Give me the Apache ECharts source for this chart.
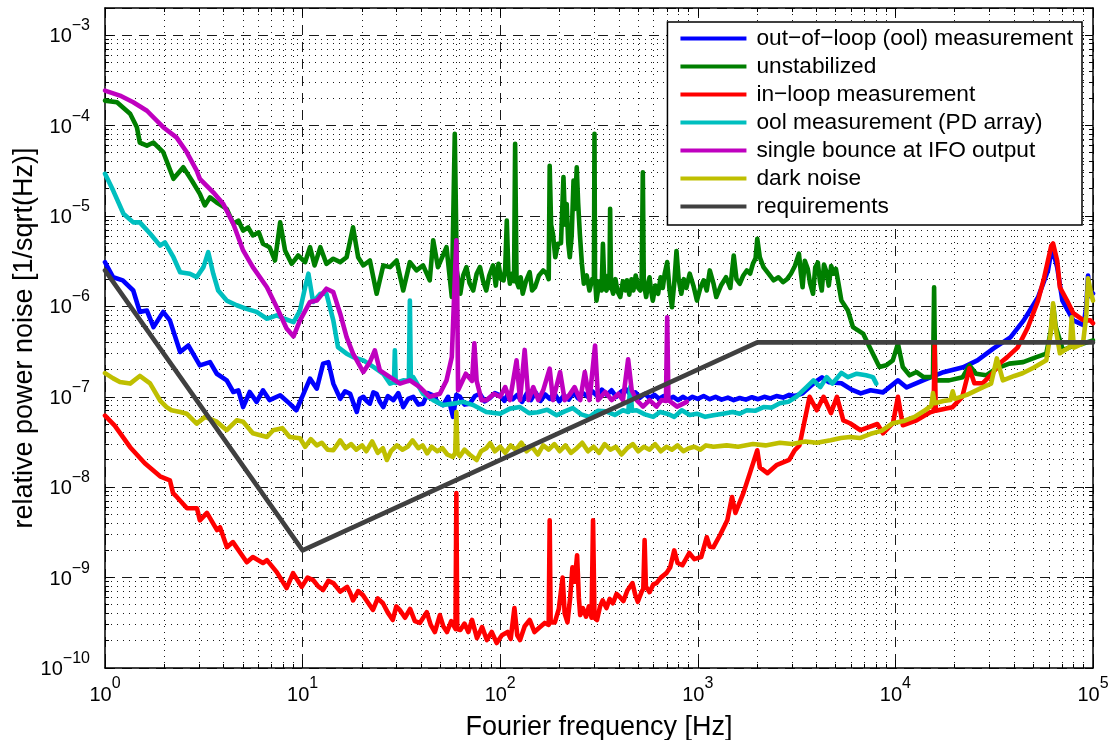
<!DOCTYPE html>
<html>
<head>
<meta charset="utf-8">
<title>Relative power noise</title>
<script src="https://cdn.jsdelivr.net/npm/echarts@6/dist/echarts.min.js"></script>
<style>
  html, body { margin: 0; padding: 0; background: #fff; }
  #chart { width: 1117px; height: 740px; }
</style>
</head>
<body>
<div id="chart"></div>
<script>
// Spectra as [frequency in Hz, relative power noise in 1/sqrt(Hz)]
const oolMeasurement = [
  [1,3.08e-6],[1.1,2.1e-6],[1.23,1.94e-6],[1.39,1.5e-6],[1.5,8.7e-7],[1.63,9.0e-7],[1.76,5.9e-7],[1.97,8.7e-7],
  [2.13,7.0e-7],[2.4,3.13e-7],[2.64,3.7e-7],[3.02,2.23e-7],[3.4,2.42e-7],[3.68,1.8e-7],[4.13,1.52e-7],[4.46,1.13e-7],
  [4.73,1.18e-7],[5.0,7.7e-8],[5.4,1.13e-7],[5.85,8.8e-8],[6.3,1.18e-7],[6.8,9.2e-8],[7.7,1.04e-7],[8.6,8.4e-8],
  [9.3,7.1e-8],[10.1,1.08e-7],[10.9,1.59e-7],[11.8,1.23e-7],[12.7,2.33e-7],[13.5,2.42e-7],[14.3,1.4e-7],[15.5,9.5e-8],
  [16.4,1.15e-7],[17.4,1.08e-7],[18.1,8.5e-8],[18.8,6.8e-8],[19.5,9.5e-8],[20.3,1.0e-7],[21.1,9.0e-8],[21.9,8.4e-8],
  [22.8,1.12e-7],[23.7,1.08e-7],[24.6,8.8e-8],[25.6,7.7e-8],[27,1.02e-7],[28.8,9.2e-8],[30.5,1.1e-7],[32.3,7.7e-8],
  [34.2,9.5e-8],[36.3,1.0e-7],[38.5,8.2e-8],[40.7,8.4e-8],[43,1.1e-7],[45.8,1.04e-7],[48.5,8.6e-8],[51.4,8.1e-8],
  [54.5,1.0e-7],[57.7,6.0e-8],[60,1.05e-7],[62.6,1.0e-7],[66,8.2e-8],[70.2,8.4e-8],[74.5,1.02e-7],[78.8,1.08e-7],
  [83.5,8.9e-8],[88.5,9.7e-8],[94,1.1e-7],[100,1.04e-7],[105,9.0e-8],[110,1.1e-7],[116,9.4e-8],[122,1.05e-7],
  [129,8.8e-8],[136,1.08e-7],[143,9.2e-8],[151,1.12e-7],[160,9.0e-8],[169,1.06e-7],[178,9.5e-8],[188,1.1e-7],
  [199,8.9e-8],[210,1.04e-7],[222,9.3e-8],[235,1.12e-7],[248,9.6e-8],[262,1.1e-7],[277,1.0e-7],[293,1.15e-7],
  [310,1.02e-7],[327,1.2e-7],[346,1.05e-7],[366,1.18e-7],[387,1.0e-7],[409,1.14e-7],[432,1.22e-7],[457,1.05e-7],
  [483,1.12e-7],[510,9.8e-8],[540,1.08e-7],[570,9.7e-8],[603,1.05e-7],[637,9.5e-8],[673,1.02e-7],[712,9.4e-8],
  [752,1.0e-7],[795,9.2e-8],[840,1.0e-7],[888,9.3e-8],[940,1.0e-7],[1000,9.5e-8],[1070,1.02e-7],[1150,9.4e-8],
  [1230,1.0e-7],[1320,9.3e-8],[1420,9.8e-8],[1520,9.2e-8],[1630,9.7e-8],[1750,9.3e-8],[1880,9.9e-8],[2020,9.4e-8],
  [2170,1.0e-7],[2330,9.6e-8],[2500,1.02e-7],[2700,9.8e-8],[2900,1.05e-7],[3100,1.02e-7],[3390,1.09e-7],[3700,1.3e-7],
  [4000,1.5e-7],[4250,1.64e-7],[4600,1.45e-7],[5330,1.41e-7],[6000,1.2e-7],[6680,1.09e-7],[7490,1.18e-7],[8650,1.12e-7],
  [10300,1.52e-7],[11400,1.27e-7],[13800,1.52e-7],[17500,1.87e-7],[22000,2.12e-7],[26000,2.53e-7],[31400,3.43e-7],
  [38200,4.55e-7],[44600,7.0e-7],[52700,1.26e-6],[59200,2.5e-6],[62000,4.5e-6],[65900,2.7e-6],[70000,1.16e-6],
  [79500,7.0e-7],[89600,6.2e-7],[92500,1.0e-6],[94400,2.2e-6],[96500,1.3e-6],[100000,1.39e-6]
];

const unstabilized = [
  [1,1.89e-4],[1.15,1.81e-4],[1.34,1.35e-4],[1.45,9.6e-5],[1.5,6.5e-5],[1.63,6.0e-5],[1.76,6.5e-5],[1.97,5.1e-5],
  [2.22,2.58e-5],[2.49,3.46e-5],[2.75,2.47e-5],[3.02,1.76e-5],[3.2,1.31e-5],[3.4,1.61e-5],[3.66,1.42e-5],[4.13,1.2e-5],
  [4.46,8.2e-6],[4.73,8.9e-6],[5.0,6.9e-6],[5.3,7.5e-6],[5.6,6.1e-6],[6.0,6.6e-6],[6.3,4.93e-6],[6.8,4.52e-6],
  [7.25,3.22e-6],[7.7,8.5e-6],[8.15,4.16e-6],[8.8,2.96e-6],[9.5,3.66e-6],[10.3,3.09e-6],[10.9,4.52e-6],[11.5,2.84e-6],
  [12.3,4.52e-6],[13.2,2.96e-6],[14.3,3.37e-6],[15.5,3.09e-6],[16.7,3.5e-6],[18.0,7.5e-6],[19.1,3.5e-6],[20.3,2.84e-6],
  [21.9,3.22e-6],[23.7,1.38e-6],[25.6,2.84e-6],[27.7,2.72e-6],[29.9,3.22e-6],[32.3,1.5e-6],[34.9,3.09e-6],[37.7,2.5e-6],
  [40.7,2.84e-6],[44,1.94e-6],[45.8,5.4e-6],[48.4,2.72e-6],[53.5,4.52e-6],[56.9,1.27e-6],[58.9,8.1e-5],[60.3,2.5e-6],
  [62.8,1.38e-6],[65,2.2e-6],[67.5,2.72e-6],[70,1.8e-6],[73,1.5e-6],[76,2.3e-6],[79,2.72e-6],[82,1.9e-6],[85,1.5e-6],
  [88,2.2e-6],[92,2.84e-6],[95,1.7e-6],[98,2.96e-6],[101,2.0e-6],[104,1.94e-6],[106,2.6e-6],[108,8.9e-6],[110,2.4e-6],
  [112,1.78e-6],[115,2.3e-6],[117.5,1.9e-6],[119,6.3e-5],[121,1.9e-6],[124,1.63e-6],[127,2.1e-6],[130,1.38e-6],
  [135,1.9e-6],[141,2.39e-6],[145,1.5e-6],[150,1.63e-6],[157,2.2e-6],[165,2.5e-6],[172,2.3e-6],[176,2.0e-6],
  [178,3.6e-5],[181,8.0e-6],[185,6.3e-6],[190,3.5e-6],[196,4.93e-6],[203,5.0e-6],[209,2.69e-5],[213,8.0e-6],
  [217,1.36e-5],[221,5.0e-6],[225,3.5e-6],[230,6.0e-6],[235,2.47e-5],[239,1.2e-5],[244,3.46e-5],[248,1.4e-5],
  [253,6.3e-6],[259,3.0e-6],[265,1.78e-6],[274,2.2e-6],[283,1.5e-6],[292,2.0e-6],[298,1.8e-6],[300,8.1e-5],
  [302,2.0e-6],[307,1.16e-6],[318,1.9e-6],[326,1.5e-6],[331,4.93e-6],[337,1.6e-6],[345,1.5e-6],[352,2.2e-6],
  [357,1.6e-6],[360,1.2e-5],[364,1.7e-6],[373,1.38e-6],[383,2.0e-6],[393,1.45e-6],[405,1.27e-6],[418,1.9e-6],
  [430,1.5e-6],[438,1.94e-6],[450,1.35e-6],[462,2.0e-6],[472,1.5e-6],[485,2.2e-6],[500,1.6e-6],[512,1.5e-6],
  [520,2.0e-6],[527,3.05e-5],[533,1.8e-6],[548,1.27e-6],[560,1.8e-6],[570,2.1e-6],[580,1.5e-6],[592,1.16e-6],
  [610,1.7e-6],[630,1.38e-6],[648,2.1e-6],[665,1.6e-6],[680,2.3e-6],[700,3.09e-6],[720,1.5e-6],[740,9.8e-7],
  [760,1.8e-6],[780,4.1e-6],[800,2.0e-6],[825,1.38e-6],[850,2.0e-6],[875,1.6e-6],[910,2.3e-6],[950,1.7e-6],
  [990,1.16e-6],[1030,1.6e-6],[1070,1.94e-6],[1110,1.5e-6],[1150,2.5e-6],[1200,1.8e-6],[1240,1.27e-6],[1310,1.7e-6],
  [1390,2.1e-6],[1460,1.6e-6],[1520,3.66e-6],[1570,2.0e-6],[1630,1.78e-6],[1700,2.2e-6],[1770,2.5e-6],[1840,2.3e-6],
  [1900,2.96e-6],[1960,3.4e-6],[2000,5.6e-6],[2060,3.5e-6],[2150,2.72e-6],[2280,2.3e-6],[2420,1.94e-6],[2560,2.1e-6],
  [2700,1.86e-6],[2830,2.0e-6],[2960,2.3e-6],[3100,2.8e-6],[3250,3.83e-6],[3320,2.4e-6],[3390,1.63e-6],[3480,3.2e-6],
  [3600,2.61e-6],[3700,1.8e-6],[3830,1.38e-6],[3930,2.7e-6],[4050,3.06e-6],[4150,1.9e-6],[4240,1.5e-6],[4350,2.9e-6],
  [4480,2.4e-6],[4600,1.7e-6],[4730,2.8e-6],[4870,2.3e-6],[5000,2.6e-6],[5150,1.8e-6],[5330,1.16e-6],[5750,9.0e-7],
  [6100,5.9e-7],[6860,5.0e-7],[7400,3.55e-7],[8300,2.14e-7],[8980,2.23e-7],[9700,2.53e-7],[10300,3.87e-7],[10900,2.14e-7],
  [11800,1.73e-7],[12800,1.88e-7],[13900,1.65e-7],[15000,1.65e-7],[15500,1.7e-7],[15700,1.63e-6],[15900,1.6e-7],
  [16300,1.52e-7],[18700,1.52e-7],[21900,1.65e-7],[23700,2.23e-7],[25600,1.8e-7],[28800,1.73e-7],[32300,2.05e-7],
  [37700,2.33e-7],[44300,2.42e-7],[51700,2.75e-7],[58000,3.0e-7],[61200,5.4e-7],[63000,1.0e-6],[64700,6.0e-7],
  [70500,3.26e-7],[76500,3.55e-7],[89000,3.87e-7],[100000,4.2e-7]
];

const inLoopMeasurement = [
  [1,6.2e-8],[1.12,4.8e-8],[1.34,2.77e-8],[1.59,1.84e-8],[1.9,1.32e-8],[2.13,1.19e-8],[2.21,8.6e-9],[2.31,7.8e-9],
  [2.6,5.85e-9],[2.92,5.85e-9],[3.02,4.3e-9],[3.28,5.2e-9],[3.69,3.35e-9],[3.82,3.6e-9],[4.14,2.17e-9],[4.44,2.47e-9],
  [5.22,1.48e-9],[5.6,1.69e-9],[6.3,1.45e-9],[6.6,1.56e-9],[7.4,1.15e-9],[8.3,7.65e-10],[8.95,1.12e-9],[9.9,7.9e-10],
  [10.6,1.0e-9],[11.3,9.4e-10],[12,8.0e-10],[12.7,7.3e-10],[13.5,9.2e-10],[14.3,8.7e-10],[15.5,7.0e-10],[16.8,7.9e-10],
  [17.4,6.8e-10],[18,5.6e-10],[19.1,7.1e-10],[20.2,6.4e-10],[21.4,5.3e-10],[22.7,4.4e-10],[24,5.9e-10],[25.5,5.2e-10],
  [27,4.1e-10],[28.6,3.4e-10],[29.8,4.8e-10],[31,4.4e-10],[33,3.6e-10],[35,4.5e-10],[37,3.3e-10],[39.2,3.15e-10],
  [42.5,4.15e-10],[44.5,3.0e-10],[46.7,2.5e-10],[49.5,3.85e-10],[51.5,2.9e-10],[53.8,2.5e-10],[56.5,3.3e-10],
  [59.4,2.7e-10],[60,8.6e-9],[60.6,2.7e-10],[62.8,2.63e-10],[66,3.1e-10],[69,2.5e-10],[72,3.4e-10],[76.3,2.14e-10],
  [81,2.84e-10],[85.6,2.04e-10],[90.6,2.5e-10],[96,1.89e-10],[102,2.3e-10],[109,2.5e-10],[113,2.1e-10],[118,4.6e-10],
  [122,2.3e-10],[126,2.04e-10],[133,2.9e-10],[141,3.4e-10],[149,2.5e-10],[158,2.8e-10],[168,3.15e-10],[176,3.0e-10],
  [178,4.3e-9],[180,3.2e-10],[189,3.2e-10],[198,4.5e-10],[207,1.0e-9],[212,4.0e-10],[219,3.2e-10],[226,6.0e-10],
  [232,1.3e-9],[238,9.0e-10],[245,1.77e-9],[250,6.0e-10],[254,3.85e-10],[262,4.6e-10],[272,3.7e-10],[281,4.8e-10],
  [290,3.6e-10],[295,4.3e-9],[300,3.6e-10],[309,3.4e-10],[320,4.8e-10],[330,5.6e-10],[345,4.6e-10],[358,5.8e-10],
  [372,5.2e-10],[388,6.6e-10],[403,6.1e-10],[420,5.5e-10],[440,7.2e-10],[467,8.7e-10],[482,6.5e-10],[497,5.4e-10],
  [520,7.0e-10],[530,7.5e-10],[538,2.6e-9],[546,8.0e-10],[570,6.9e-10],[595,8.4e-10],[618,8.7e-10],[650,1.0e-9],
  [693,1.12e-9],[725,1.3e-9],[760,2.0e-9],[790,1.45e-9],[835,1.37e-9],[870,1.6e-9],[905,1.87e-9],[960,1.6e-9],
  [1040,1.69e-9],[1110,2.8e-9],[1150,2.2e-9],[1200,2.17e-9],[1300,3.0e-9],[1410,4.3e-9],[1490,7.8e-9],[1550,5.2e-9],
  [1700,8.6e-9],[1840,1.46e-8],[2000,2.56e-8],[2060,1.66e-8],[2250,1.43e-8],[2500,1.75e-8],[2900,2.0e-8],[3090,2.56e-8],
  [3270,2.9e-8],[3680,1.0e-7],[4000,7.1e-8],[4330,1.0e-7],[4720,6.6e-8],[5060,1.0e-7],[5450,5.5e-8],[5890,5.1e-8],
  [6660,4.27e-8],[8100,5.0e-8],[8650,3.95e-8],[9720,5.1e-8],[10300,1.0e-7],[10900,4.85e-8],[12800,5.5e-8],[15000,6.75e-8],
  [15600,6.9e-8],[15800,3.7e-7],[16000,7.0e-8],[16300,7.1e-8],[19400,7.65e-8],[21800,1.0e-7],[23700,2.07e-7],
  [25100,1.41e-7],[27600,1.41e-7],[31000,1.82e-7],[34100,2.4e-7],[36700,2.73e-7],[41500,3.5e-7],[46800,5.85e-7],
  [52700,1.16e-6],[56600,2.09e-6],[61500,4.7e-6],[62800,4.97e-6],[65900,3.2e-6],[68000,1.62e-6],[73900,1.16e-6],
  [79500,8.4e-7],[89600,7.0e-7],[97000,7.0e-7],[100000,6.5e-7]
];

const oolPdArray = [
  [1,2.93e-5],[1.1,1.91e-5],[1.24,1.06e-5],[1.39,8.5e-6],[1.5,8.5e-6],[1.69,6.4e-6],[1.9,4.7e-6],[2.01,5.1e-6],
  [2.22,3.5e-6],[2.4,2.39e-6],[2.69,2.3e-6],[2.91,2.11e-6],[3.15,2.72e-6],[3.33,3.98e-6],[3.53,2.3e-6],[3.74,1.5e-6],
  [4.13,1.16e-6],[4.64,1.03e-6],[5.2,9.4e-7],[5.85,8.7e-7],[6.6,7.3e-7],[7.4,7.95e-7],[8.1,7.3e-7],[9.0,6.7e-7],
  [9.7,9.0e-7],[10.3,1.63e-6],[10.7,2.3e-6],[11.3,1.12e-6],[12.3,1.38e-6],[13.2,1.38e-6],[14.3,7.0e-7],[15.1,3.55e-7],
  [16.7,3.0e-7],[18,2.75e-7],[20.3,2.53e-7],[22.8,2.14e-7],[25.6,1.8e-7],[27.7,1.4e-7],[29.0,1.45e-7],[29.3,3.26e-7],
  [29.6,1.42e-7],[32.3,1.52e-7],[34.5,1.5e-7],[34.9,1.16e-6],[35.3,1.6e-7],[36.3,1.65e-7],[40.7,1.08e-7],[45.8,9.2e-8],
  [51.4,8.1e-8],[57.7,8.4e-8],[65,8.8e-8],[73,8.1e-8],[85,6.8e-8],[100,6.5e-8],[112,7.4e-8],[126,7.7e-8],[140,6.6e-8],
  [155,6.75e-8],[173,7.2e-8],[193,6.25e-8],[212,6.9e-8],[233,7.5e-8],[257,6.4e-8],[283,6.0e-8],[312,7.0e-8],[343,6.9e-8],
  [380,6.3e-8],[418,7.1e-8],[445,6.8e-8],[455,1.28e-7],[465,7.0e-8],[490,7.1e-8],[540,6.4e-8],[595,6.0e-8],[645,6.8e-8],
  [700,6.5e-8],[760,6.0e-8],[830,7.1e-8],[910,6.3e-8],[990,6.5e-8],[1090,6.0e-8],[1200,6.25e-8],[1340,6.5e-8],
  [1500,6.8e-8],[1630,6.5e-8],[1770,7.1e-8],[1950,7.0e-8],[2150,7.7e-8],[2370,7.6e-8],[2600,8.5e-8],[2870,8.8e-8],
  [3150,1.0e-7],[3550,1.28e-7],[3850,1.52e-7],[4170,1.28e-7],[4490,1.65e-7],[4800,1.4e-7],[5330,1.84e-7],[5750,1.65e-7],
  [6370,1.8e-7],[7100,1.73e-7],[7700,1.65e-7],[8000,1.4e-7]
];

const singleBounce = [
  [1,2.44e-4],[1.19,2.15e-4],[1.39,1.81e-4],[1.63,1.46e-4],[1.97,9.6e-5],[2.3,7.4e-5],[2.59,5.1e-5],[2.91,3.18e-5],
  [3.02,2.58e-5],[3.53,1.83e-5],[3.97,1.36e-5],[4.46,8.2e-6],[5.0,4.16e-6],[5.6,2.72e-6],[6.6,1.63e-6],[7.4,9.8e-7],
  [8.3,5.7e-7],[9.0,4.66e-7],[9.7,7.0e-7],[10.9,1.12e-6],[11.8,1.16e-6],[13.2,1.57e-6],[14.3,1.44e-6],[15.5,8.3e-7],
  [16.7,4.58e-7],[18,3.0e-7],[20.3,1.88e-7],[21.9,2.42e-7],[23.2,3.26e-7],[24.6,1.96e-7],[27.7,1.65e-7],[31.1,1.4e-7],
  [34.9,1.52e-7],[39.2,1.28e-7],[44,1.0e-7],[49.5,1.08e-7],[53.5,1.52e-7],[56.9,2.75e-7],[58.6,1.5e-6],[60,5.4e-6],
  [60.6,1.5e-6],[61.2,1.18e-7],[67,1.8e-7],[72,1.5e-7],[74,3.9e-7],[76,1.5e-7],[80.5,9.2e-8],[85.5,9.2e-8],[93,1.08e-7],
  [100,1.0e-7],[106,1.28e-7],[112,9.2e-8],[121,2.53e-7],[126,9.2e-8],[133,3.3e-7],[139,9.2e-8],[147,1.28e-7],[156,9.2e-8],
  [165,1.18e-7],[178,2.05e-7],[185,9.2e-8],[201,1.88e-7],[212,9.2e-8],[224,1.05e-7],[238,1.28e-7],[254,9.2e-8],
  [268,1.88e-7],[283,9.2e-8],[302,3.7e-7],[313,9.2e-8],[340,1.13e-7],[367,9.2e-8],[396,1.08e-7],[418,9.2e-8],
  [444,2.6e-7],[463,1.18e-7],[490,9.2e-8],[528,7.8e-8],[570,9.2e-8],[618,7.8e-8],[655,9.2e-8],[690,9.0e-8],[700,7.6e-7],
  [710,9.2e-8],[726,9.2e-8],[785,7.8e-8],[880,8.8e-8]
];

const darkNoise = [
  [1,1.83e-7],[1.1,1.6e-7],[1.19,1.46e-7],[1.34,1.4e-7],[1.5,1.7e-7],[1.69,1.41e-7],[1.9,9.1e-8],[2.05,7.7e-8],
  [2.17,7.1e-8],[2.4,6.8e-8],[2.59,6.5e-8],[2.91,5.05e-8],[3.21,6.0e-8],[3.68,5.3e-8],[4.13,4.27e-8],[4.64,5.5e-8],
  [5.0,5.3e-8],[5.6,3.95e-8],[6.6,3.6e-8],[7.1,4.27e-8],[7.9,4.5e-8],[8.6,3.6e-8],[9.7,3.48e-8],[10.3,2.8e-8],
  [11,3.4e-8],[11.8,2.9e-8],[12.5,3.1e-8],[13.4,2.6e-8],[14.3,2.56e-8],[15.5,3.3e-8],[16.5,2.7e-8],[17.6,3.0e-8],
  [18.7,2.6e-8],[20,2.9e-8],[21,2.5e-8],[22.5,3.2e-8],[24,2.4e-8],[25.5,2.7e-8],[26.7,2.0e-8],[28,2.5e-8],[30,2.9e-8],
  [32,2.6e-8],[34,2.8e-8],[36,3.3e-8],[38.5,2.7e-8],[40.5,2.9e-8],[42.7,2.37e-8],[45,2.8e-8],[48,2.5e-8],[51,2.7e-8],
  [54,2.3e-8],[57.6,2.16e-8],[59.2,2.4e-8],[60,6.8e-8],[60.8,2.4e-8],[62.5,2.2e-8],[66,2.6e-8],[70,2.3e-8],[76,2.0e-8],
  [80,2.5e-8],[85,2.7e-8],[89,3.06e-8],[94,2.5e-8],[100,2.8e-8],[106,2.4e-8],[113,2.9e-8],[120,2.6e-8],[128,3.1e-8],
  [136,2.5e-8],[145,2.8e-8],[155,2.3e-8],[165,2.9e-8],[176,2.6e-8],[188,3.0e-8],[200,2.5e-8],[214,2.9e-8],[228,2.4e-8],
  [244,2.7e-8],[260,3.1e-8],[278,2.5e-8],[297,2.8e-8],[317,2.4e-8],[338,3.0e-8],[361,2.6e-8],[385,2.8e-8],[411,2.3e-8],
  [439,2.7e-8],[469,3.0e-8],[500,2.5e-8],[534,2.8e-8],[570,2.6e-8],[608,3.0e-8],[650,2.5e-8],[694,2.8e-8],[740,2.6e-8],
  [790,2.9e-8],[845,2.5e-8],[900,2.7e-8],[960,2.8e-8],[1030,2.6e-8],[1100,2.9e-8],[1200,2.8e-8],[1400,2.9e-8],
  [1600,2.8e-8],[1900,3.0e-8],[2200,2.9e-8],[2600,3.1e-8],[3000,3.0e-8],[3500,3.2e-8],[4000,3.1e-8],[4700,3.3e-8],
  [5300,3.5e-8],[5900,3.6e-8],[6600,3.5e-8],[7500,3.9e-8],[8500,4.2e-8],[9700,5.1e-8],[11000,5.4e-8],[12500,6.0e-8],
  [14000,7.0e-8],[15200,8.0e-8],[15500,1.1e-7],[15800,8.5e-8],[17500,9.0e-8],[19000,9.2e-8],[19500,1.15e-7],
  [20000,9.5e-8],[23000,1.05e-7],[27800,1.28e-7],[30500,1.4e-7],[32600,2.66e-7],[35000,1.52e-7],[40000,1.7e-7],
  [44000,1.82e-7],[50000,2.1e-7],[58000,2.53e-7],[61000,5.0e-7],[62800,1.08e-6],[64500,6.0e-7],[68000,3.03e-7],
  [72000,3.3e-7],[76500,3.55e-7],[78000,7.6e-7],[80000,3.5e-7],[89000,3.9e-7],[92500,8.0e-7],[94400,2.04e-6],
  [97000,1.5e-6],[100000,1.16e-6]
];

const requirements = [[1,2.5e-6],[10,2e-9],[2000,4e-7],[100000,4e-7]];

const seriesNames = [
  'out\u2212of\u2212loop (ool) measurement',
  'unstabilized',
  'in\u2212loop measurement',
  'ool measurement (PD array)',
  'single bounce at IFO output',
  'dark noise',
  'requirements'
];
const seriesData = [oolMeasurement, unstabilized, inLoopMeasurement, oolPdArray, singleBounce, darkNoise, requirements];
const seriesColors = ['#0000ff', '#007f00', '#ff0000', '#00bfbf', '#bf00bf', '#bfbf00', '#404040'];

// Axis ranges and minor grid steps within each decade
const xRange = [1, 1e5];
const yRange = [1e-10, 2e-3];
const minorSteps = [2, 3, 4, 5, 6, 7, 8, 9];
const xDecades = [1, 10, 100, 1000, 10000];
const yDecades = [1e-10, 1e-9, 1e-8, 1e-7, 1e-6, 1e-5, 1e-4];

const FONT = '"Liberation Sans", Arial, Helvetica, sans-serif';
const MINOR_TICK = 4;

const xMinor = [];
xDecades.forEach(d => minorSteps.forEach(s => xMinor.push([d * s, yRange[0]])));
const yMinor = [];
yDecades.forEach(d => minorSteps.forEach(s => yMinor.push([xRange[0], d * s])));

// Power-of-ten tick labels drawn as "10" with a raised exponent
function expText(v) {
  const e = Math.log10(v);
  const r = Math.round(e);
  if (Math.abs(e - r) > 1e-6) return '';
  return '{b|10}{e|' + (r < 0 ? '\u2212' + (-r) : String(r)) + '}';
}

// "10" sits in the middle of a tall line box, the exponent hangs from its top
const labelRich = {
  b: { fontFamily: FONT, fontSize: 20, color: '#000', lineHeight: 38 },
  e: { fontFamily: FONT, fontSize: 16, color: '#000', lineHeight: 16, verticalAlign: 'top' }
};

function crisp(v) { return Math.round(v - 0.5) + 0.5; }

function minorXItem(params, api) {
  const cs = params.coordSys;
  const x = crisp(api.coord([api.value(0), yRange[0]])[0]);
  const top = cs.y, bot = cs.y + cs.height;
  return {
    type: 'group',
    children: [
      { type: 'line', shape: { x1: x, y1: top, x2: x, y2: bot }, style: { stroke: '#000', lineWidth: 1, lineDash: [1, 5], opacity: 0.9 } },
      { type: 'line', shape: { x1: x, y1: bot, x2: x, y2: bot - MINOR_TICK }, style: { stroke: '#000', lineWidth: 1 } },
      { type: 'line', shape: { x1: x, y1: top, x2: x, y2: top + MINOR_TICK }, style: { stroke: '#000', lineWidth: 1 } }
    ]
  };
}

function minorYItem(params, api) {
  const cs = params.coordSys;
  const y = crisp(api.coord([xRange[0], api.value(1)])[1]);
  const left = cs.x, right = cs.x + cs.width;
  return {
    type: 'group',
    children: [
      { type: 'line', shape: { x1: left, y1: y, x2: right, y2: y }, style: { stroke: '#000', lineWidth: 1, lineDash: [1, 5], opacity: 0.9 } },
      { type: 'line', shape: { x1: left, y1: y, x2: left + MINOR_TICK, y2: y }, style: { stroke: '#000', lineWidth: 1 } },
      { type: 'line', shape: { x1: right, y1: y, x2: right - MINOR_TICK, y2: y }, style: { stroke: '#000', lineWidth: 1 } }
    ]
  };
}

const axisLineStyle = { color: '#000', width: 1.5 };
const majorTick = { show: true, inside: true, length: 8, lineStyle: { color: '#000', width: 1 } };
const majorGrid = { show: true, lineStyle: { color: '#000', width: 1, type: [10, 7], opacity: 0.9 } };

const chart = echarts.init(document.getElementById('chart'), null, { renderer: 'canvas' });

const dataSeries = seriesNames.map((name, i) => ({
  name: name,
  type: 'line',
  data: seriesData[i],
  xAxisIndex: 0,
  yAxisIndex: 0,
  showSymbol: false,
  symbol: 'none',
  smooth: false,
  z: 3,
  color: seriesColors[i],
  lineStyle: { color: seriesColors[i], width: 4.6, join: 'round', cap: 'round' },
  emphasis: { disabled: true }
}));

chart.setOption({
  animation: false,
  backgroundColor: '#fff',
  grid: { left: 105, right: 24, top: 8, bottom: 72, outerBoundsMode: 'none' },
  legend: {
    data: seriesNames,
    orient: 'vertical',
    right: 35,
    top: 22,
    icon: 'rect',
    itemWidth: 66,
    itemHeight: 4,
    itemGap: 5,
    padding: [5, 9, 7, 13],
    backgroundColor: '#fff',
    borderColor: '#000',
    borderWidth: 1.5,
    borderRadius: 0,
    selectedMode: false,
    textStyle: { fontFamily: FONT, fontSize: 22.7, color: '#000', lineHeight: 22, padding: [0, 0, 0, 5] }
  },
  xAxis: [
    {
      type: 'log', logBase: 10, min: xRange[0], max: xRange[1], position: 'bottom',
      name: 'Fourier frequency [Hz]', nameLocation: 'middle', nameGap: 46, nameMoveOverlap: false,
      nameTextStyle: { fontFamily: FONT, fontSize: 27, color: '#000' },
      axisLine: { show: true, lineStyle: axisLineStyle },
      axisTick: majorTick,
      axisLabel: { margin: 8, fontSize: 20, fontFamily: FONT, formatter: expText, rich: labelRich, showMinLabel: true, showMaxLabel: true },
      splitLine: majorGrid
    },
    {
      type: 'log', logBase: 10, min: xRange[0], max: xRange[1], position: 'top',
      axisLine: { show: true, lineStyle: axisLineStyle },
      axisTick: majorTick,
      axisLabel: { show: false },
      splitLine: { show: false }
    }
  ],
  yAxis: [
    {
      type: 'log', logBase: 10, min: yRange[0], max: yRange[1], splitNumber: 7, position: 'left',
      name: 'relative power noise [1/sqrt(Hz)]', nameLocation: 'middle', nameGap: 67, nameRotate: 90, nameMoveOverlap: false,
      nameTextStyle: { fontFamily: FONT, fontSize: 27, color: '#000' },
      axisLine: { show: true, lineStyle: axisLineStyle },
      axisTick: majorTick,
      axisLabel: { margin: 15, fontSize: 20, fontFamily: FONT, formatter: expText, rich: labelRich, padding: [3, 0, 0, 0], showMaxLabel: false },
      splitLine: majorGrid
    },
    {
      type: 'log', logBase: 10, min: yRange[0], max: yRange[1], splitNumber: 7, position: 'right',
      axisLine: { show: true, lineStyle: axisLineStyle },
      axisTick: majorTick,
      axisLabel: { show: false },
      splitLine: { show: false }
    }
  ],
  series: [
    { type: 'custom', name: 'minorX', data: xMinor, renderItem: minorXItem, z: 1, silent: true, xAxisIndex: 0, yAxisIndex: 0 },
    { type: 'custom', name: 'minorY', data: yMinor, renderItem: minorYItem, z: 1, silent: true, xAxisIndex: 0, yAxisIndex: 0 }
  ].concat(dataSeries)
});
</script>
</body>
</html>
